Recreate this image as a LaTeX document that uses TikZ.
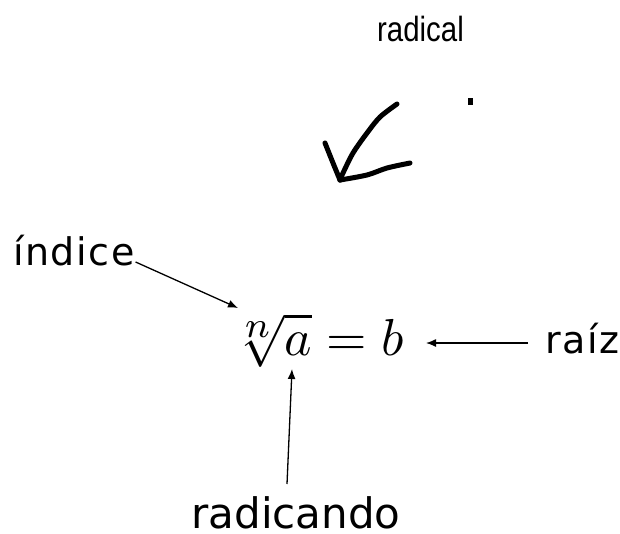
\documentclass[tikz,border=0pt]{standalone}
\usepackage{fontspec}
\usepackage{graphicx}
\usetikzlibrary{arrows.meta}
\newfontfamily\labfont[LetterSpace=4]{DejaVu Sans}
\newfontfamily\radfont{DejaVu Sans}
\newfontfamily\arialfont{Liberation Sans}
\begin{document}
\begin{tikzpicture}[x=1pt,y=-1pt,
  lab/.style={inner sep=0pt, anchor=base west, font=\labfont\fontsize{38}{42}\selectfont},
  conn/.style={line width=1.3pt, -{Latex[length=10pt,width=8pt]}},
  hand/.style={line width=5pt, line cap=round, line join=round}]
\useasboundingbox (0,0) rectangle (620,533);
% labels
\node[lab] (idx) at (13,265) {índice};
\node[inner sep=0pt, anchor=base west] (eq) at (230,355) {\scalebox{5.2}{$\sqrt[\scriptstyle n]{a}=b$}};
\node[lab] (raiz) at (545,353) {raíz};
\node[inner sep=0pt, anchor=base, font=\radfont\fontsize{42}{46}\selectfont] (rad) at (296,528) {radicando};
\node[inner sep=0pt, anchor=base west] (radical) at (377,41) {\arialfont\fontsize{35}{40}\selectfont\scalebox{0.84}[1]{radical}};
% arrow targets
\coordinate (nTip) at (238,308);
\coordinate (aTip) at (292,369);
\coordinate (bTip) at (426,343);
\coordinate (radStart) at (287,484);
% connectors
\draw[conn] ([xshift=1pt,yshift=3pt]idx.base east) -- (nTip);
\draw[conn] ([xshift=-17pt,yshift=10pt]raiz.base west) -- (bTip);
\draw[conn] (radStart) -- (aTip);
% hand-drawn radical arrow
\draw[hand] plot[smooth] coordinates {(397,104) (380,117) (367,133) (353,153) (343,173) (340,180)};
\draw[hand] plot[smooth] coordinates {(325,143) (333,163) (340,180)};
\draw[hand] plot[smooth] coordinates {(340,180) (367,175) (387,168) (410,163)};
\fill (468,98) rectangle (473,105);
\end{tikzpicture}
\end{document}
